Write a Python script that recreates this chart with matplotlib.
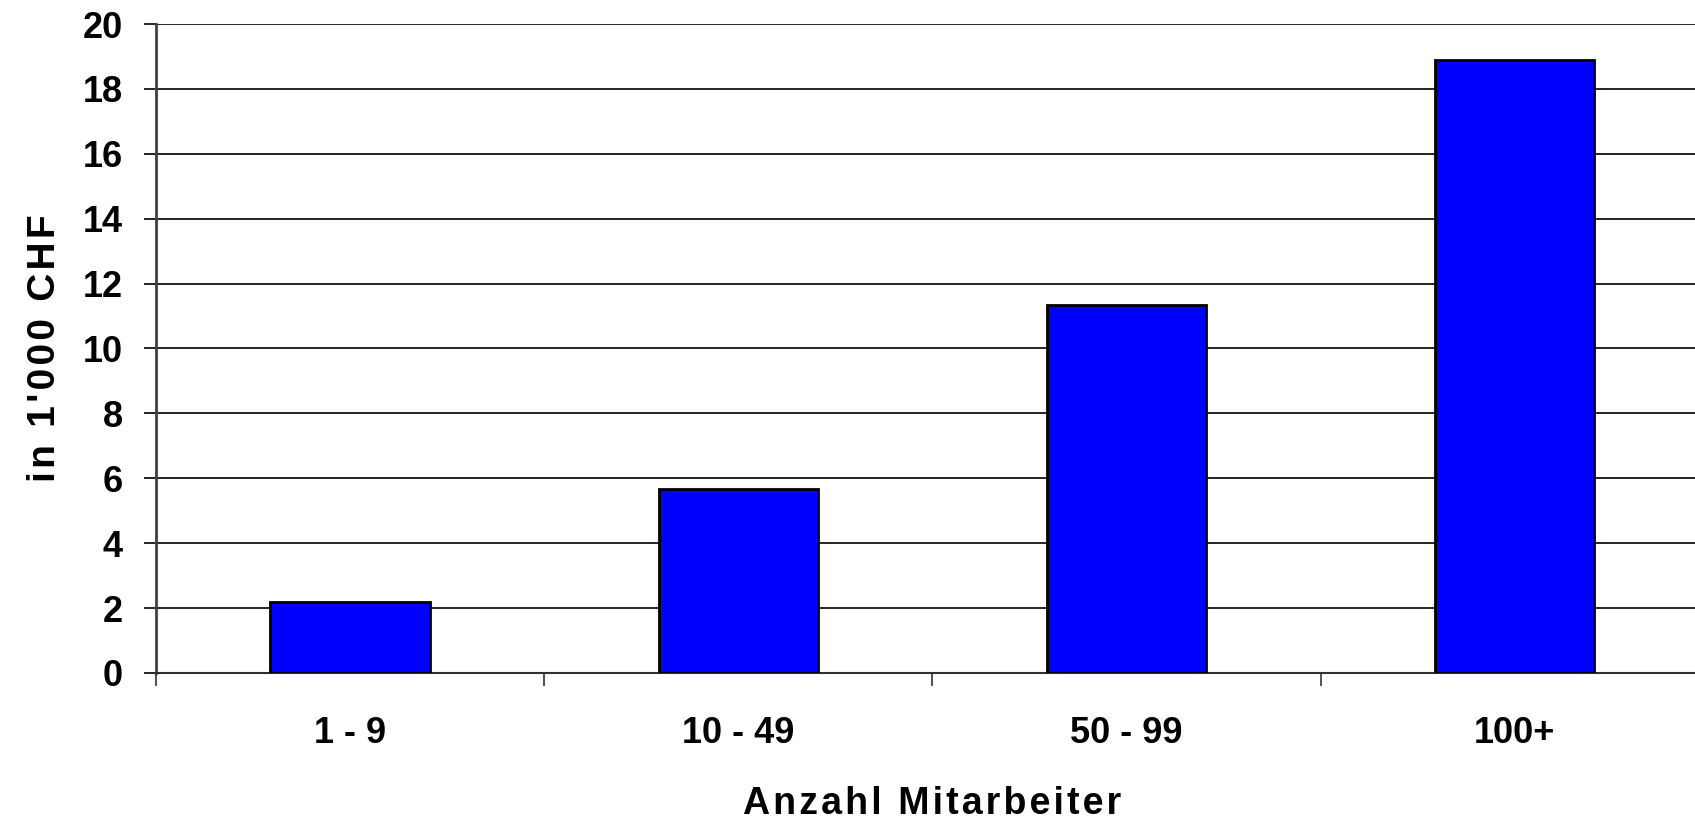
import matplotlib
matplotlib.use("Agg")
import matplotlib.pyplot as plt
import numpy as np

categories = ["1 - 9", "10 - 49", "50 - 99", "100+"]
values = [2.18, 5.67, 11.35, 18.9]
y_ticks = [0, 2, 4, 6, 8, 10, 12, 14, 16, 18, 20]
x_title = "Anzahl Mitarbeiter"
y_title = "in 1'000 CHF"

plt.rcParams['font.family'] = ['Liberation Sans', 'DejaVu Sans']
plt.rcParams['font.weight'] = 'bold'


def spaced(s):
    # the original labels have wide letter spacing
    return "\u200a".join(s)


fig = plt.figure(figsize=(16.95, 8.22), dpi=100)
ax = fig.add_axes([0.092, 0.1813, 0.9162, 0.7895])

x = np.arange(len(categories))
ax.bar(x, values, width=0.41, color='#0000ff', edgecolor='black', linewidth=2, zorder=3)

ax.set_xlim(-0.5, len(categories) - 0.5)
ax.set_ylim(0, 20)
ax.set_yticks(y_ticks)
ax.set_yticklabels([str(t) for t in y_ticks], fontsize=26, fontweight='bold')
ax.yaxis.grid(True, color='black', linewidth=1.2, zorder=0)

ax.set_xticks(x)
ax.set_xticklabels(categories, fontsize=26, fontweight='bold')
ax.set_xticks(np.arange(len(categories) + 1) - 0.5, minor=True)
ax.tick_params(axis='x', which='major', length=0, pad=31)
ax.tick_params(axis='x', which='minor', length=9, width=1.2, color='#333333', direction='out')
ax.tick_params(axis='y', length=9, width=1.2, pad=15, direction='out')

for s in ['top', 'right']:
    ax.spines[s].set_visible(False)
ax.spines['left'].set_color('#404040')
ax.spines['left'].set_linewidth(2)
ax.spines['bottom'].set_color('#303030')
ax.spines['bottom'].set_linewidth(1.5)

ax.set_xlabel(spaced(x_title), fontsize=27, fontweight='bold', labelpad=25)
ax.set_ylabel(spaced(y_title), fontsize=28, fontweight='bold', labelpad=14)

fig.savefig("out.png", dpi=100)
